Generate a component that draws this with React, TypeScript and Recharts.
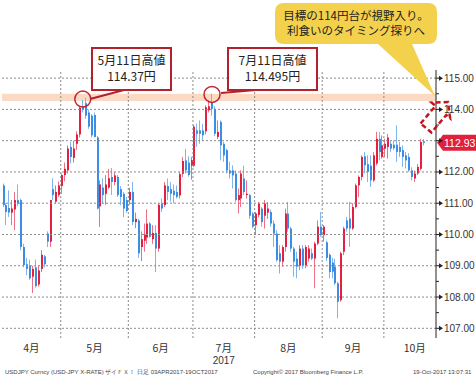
import React from "react";
import {
  ComposedChart,
  Bar,
  XAxis,
  YAxis,
  ReferenceLine,
  ReferenceArea,
  ReferenceDot,
} from "recharts";

// daily USD/JPY candles: [open, high, low, close]
type OHLC = [number, number, number, number];

const april: OHLC[] = [
  [111.57, 111.63, 110.88, 110.94],
  [110.94, 111.0, 110.3, 110.72],
  [110.85, 111.41, 110.56, 110.7],
  [110.7, 111.1, 110.3, 110.83],
  [110.8, 111.36, 110.14, 111.1],
  [111.1, 111.6, 110.9, 110.99],
  [111.1, 111.15, 109.5, 109.6],
  [109.6, 109.7, 108.95, 109.02],
  [109.05, 109.25, 108.7, 108.9],
  [109.0, 109.2, 108.55, 108.6],
  [108.65, 109.0, 108.13, 108.9],
  [108.95, 109.2, 108.3, 108.35],
  [108.4, 109.0, 108.33, 108.85],
  [108.9, 109.5, 108.8, 109.35],
  [109.3, 109.35, 108.95, 109.05],
  [110.03, 110.1, 109.6, 109.77],
  [109.77, 111.1, 109.6, 111.1],
  [111.45, 111.8, 111.1, 111.26],
  [111.05, 111.57, 111.0, 111.36],
  [111.26, 111.7, 111.2, 111.57],
];

const may: OHLC[] = [
  [111.55, 111.95, 111.3, 111.9],
  [111.9, 112.3, 111.7, 112.1],
  [112.05, 112.85, 111.95, 112.75],
  [112.8, 112.96, 112.27, 112.48],
  [112.45, 113.0, 112.3, 112.75],
  [112.9, 113.3, 112.7, 113.2],
  [113.2, 114.1, 113.1, 114.05],
  [114.1, 114.3, 113.9, 114.0],
  [114.2, 114.37, 113.7, 113.8],
  [113.9, 114.0, 113.38, 113.45],
  [113.8, 113.85, 113.1, 113.17],
  [113.82, 113.9, 113.1, 113.12],
  [113.1, 113.15, 110.8, 110.83],
  [110.9, 111.73, 110.24, 111.6],
  [111.5, 111.79, 110.99, 111.26],
  [111.3, 111.9, 110.95, 111.6],
  [111.5, 112.1, 111.45, 111.8],
  [111.84, 112.13, 111.26, 111.68],
  [111.68, 112.0, 111.57, 111.89],
  [111.84, 111.9, 111.2, 111.26],
  [111.45, 111.55, 110.94, 111.2],
  [111.3, 111.36, 110.55, 110.83],
  [111.1, 111.2, 110.7, 110.75],
];

const june: OHLC[] = [
  [111.1, 111.5, 110.95, 111.36],
  [111.36, 111.68, 110.3, 110.4],
  [110.4, 110.7, 110.2, 110.5],
  [110.45, 110.5, 109.25, 109.4],
  [109.6, 110.1, 109.15, 109.85],
  [109.8, 110.35, 109.45, 110.0],
  [109.9, 110.8, 109.7, 110.35],
  [110.35, 110.4, 109.9, 109.93],
  [109.85, 110.3, 109.7, 110.05],
  [110.05, 110.3, 108.8, 109.55],
  [109.55, 111.0, 109.45, 110.95],
  [110.99, 111.15, 110.72, 110.83],
  [110.94, 111.68, 110.88, 111.57],
  [111.55, 111.79, 111.1, 111.36],
  [111.45, 111.68, 111.05, 111.3],
  [111.4, 111.6, 111.0, 111.26],
  [111.36, 111.57, 111.15, 111.2],
  [111.25, 112.0, 111.15, 111.93],
  [111.94, 112.48, 111.84, 112.35],
  [112.37, 112.74, 111.95, 112.05],
  [112.3, 112.5, 111.85, 111.9],
  [112.2, 112.48, 111.75, 112.38],
];

const july: OHLC[] = [
  [112.2, 113.5, 112.15, 113.45],
  [113.33, 113.54, 112.8, 113.22],
  [113.33, 113.65, 112.9, 113.22],
  [113.33, 113.54, 113.0, 113.17],
  [113.3, 114.13, 113.2, 114.07],
  [113.97, 114.29, 113.9, 114.1],
  [114.23, 114.495, 113.8, 114.02],
  [114.02, 114.1, 113.15, 113.22],
  [113.12, 113.65, 113.05, 113.28],
  [113.6, 113.65, 112.37, 112.85],
  [112.9, 112.96, 112.32, 112.53],
  [112.7, 112.74, 111.95, 112.05],
  [112.05, 112.32, 111.79, 111.95],
  [112.05, 112.21, 111.47, 111.89],
  [111.95, 112.05, 111.04, 111.1],
  [111.1, 111.47, 110.67, 111.26],
  [111.15, 112.05, 110.88, 111.95],
  [111.79, 112.2, 111.26, 111.36],
  [111.26, 111.73, 111.15, 111.3],
  [111.26, 111.3, 110.5, 110.6],
  [110.67, 110.72, 110.2, 110.25],
];

const august: OHLC[] = [
  [110.3, 110.72, 109.98, 110.67],
  [110.62, 111.04, 110.55, 110.99],
  [110.83, 110.88, 110.25, 110.4],
  [110.6, 111.1, 110.19, 110.99],
  [110.7, 111.04, 110.5, 110.83],
  [110.72, 110.8, 110.25, 110.35],
  [110.35, 110.45, 109.6, 110.03],
  [110.03, 110.14, 109.13, 109.18],
  [109.4, 109.66, 108.75, 109.13],
  [109.13, 109.66, 108.97, 109.6],
  [109.6, 110.83, 109.45, 110.67],
  [110.67, 111.04, 110.09, 110.19],
  [110.19, 110.25, 109.45, 109.55],
  [109.55, 109.6, 108.65, 109.13],
  [109.23, 109.45, 108.6, 108.97],
  [109.0, 109.66, 108.86, 109.55],
  [109.55, 109.66, 108.9, 109.02],
  [109.02, 109.66, 108.92, 109.6],
  [109.23, 109.66, 109.13, 109.55],
  [109.4, 109.55, 109.18, 109.23],
  [109.23, 109.77, 108.28, 109.71],
  [109.71, 110.45, 109.66, 110.25],
  [110.25, 110.72, 109.93, 109.98],
];

const september: OHLC[] = [
  [109.98, 110.3, 109.77, 110.25],
  [109.75, 109.8, 109.15, 109.25],
  [109.35, 109.4, 108.6, 108.8],
  [109.1, 109.25, 108.6, 108.81],
  [108.97, 109.23, 108.38, 108.44],
  [108.44, 108.49, 107.32, 107.85],
  [107.9, 109.45, 107.85, 109.4],
  [109.45, 110.25, 109.34, 110.19],
  [110.45, 110.56, 110.09, 110.19],
  [110.51, 111.04, 109.6, 110.19],
  [110.19, 111.0, 110.14, 110.88],
  [110.88, 111.63, 110.83, 111.57],
  [111.57, 111.89, 111.2, 111.84],
  [111.84, 112.53, 111.73, 112.48],
  [112.5, 112.64, 111.95, 112.21],
  [112.25, 112.53, 111.68, 112.0],
  [112.2, 112.53, 111.52, 111.73],
  [111.73, 112.64, 111.68, 112.53],
  [112.27, 113.28, 112.21, 113.06],
  [113.06, 113.28, 112.37, 112.64],
  [112.48, 113.17, 112.43, 112.85],
];

const october: OHLC[] = [
  [112.74, 113.06, 112.48, 112.9],
  [112.8, 113.22, 112.43, 113.1],
  [112.9, 112.98, 112.64, 112.75],
  [112.87, 113.01, 112.7, 112.76],
  [112.87, 113.49, 112.32, 112.64],
  [112.8, 112.96, 112.48, 112.64],
  [112.7, 112.85, 112.16, 112.48],
  [112.53, 112.64, 112.11, 112.37],
  [112.48, 112.6, 112.0, 112.05],
  [112.05, 112.15, 111.73, 111.84],
  [111.79, 112.05, 111.68, 111.95],
  [111.95, 112.25, 111.9, 112.16],
  [112.1, 113.06, 112.05, 112.96],
  [112.98, 113.05, 112.85, 112.93],
];

const monthCandles = [april, may, june, july, august, september, october];
const monthLabels = ["4月", "5月", "6月", "7月", "8月", "9月", "10月"];
// label positions on the session index axis
const monthLabelAt = [9.5, 31, 53.5, 75, 97, 119, 140];
const yearLabel = { month: "7月", text: "2017" };

const Y_MIN = 106.69;
const Y_MAX = 115.26;
const yTicks = [107, 107.5, 108, 108.5, 109, 109.5, 110, 110.5, 111, 111.5, 112, 112.5, 113, 113.5, 114, 114.5, 115];
const lastPrice = 112.93;
const highBand = [114.27, 114.5];
// May 11 / Jul 11 highs (session index, price)
const highMarks = [
  { i: 27, p: 114.33 },
  { i: 71, p: 114.48 },
];

const UP = "#e41f3f";
const DOWN = "#3a8ee6";
const UP_WICK = "#ee7088";
const DOWN_WICK = "#80b6ee";
const CJK = "'Noto Sans CJK JP', sans-serif";
const NUM = "'Liberation Sans', Arial, sans-serif";

const MARGIN = { top: 70, right: 0, bottom: 41, left: 2 };
const CHART_H = 379;
const PLOT_W = 434;
const RIGHT_GAP = 11; // empty space after the last session
const LABEL_Y = CHART_H - MARGIN.bottom + 14; // month label baseline

const rows: { i: number; o: number; h: number; l: number; c: number }[] = [];
const monthBounds: number[] = [];
monthCandles.forEach((list, m) => {
  list.forEach(([o, h, l, c]) => rows.push({ i: rows.length, o, h, l, c }));
  if (m < monthCandles.length - 1) monthBounds.push(rows.length - 0.5);
});
const xEnd = -0.5 + (rows.length * PLOT_W) / (PLOT_W - RIGHT_GAP);

const Candle = (props: any) => {
  const { x, y, width, height, payload } = props;
  if (!payload) return null;
  const { o, h, l, c } = payload;
  const top = Math.min(y, y + height);
  const span = Math.abs(height);
  const range = h - l || 1;
  const toY = (v: number) => top + ((h - v) / range) * span;
  const cx = Math.round(x + width / 2);
  const up = c >= o;
  const bTop = toY(Math.max(o, c));
  const bBot = toY(Math.min(o, c));
  return (
    <g>
      <line x1={cx - 0.5} x2={cx - 0.5} y1={top} y2={top + span} stroke={up ? UP_WICK : DOWN_WICK} />
      <rect x={cx - 1} y={bTop} width={2} height={Math.max(1, bBot - bTop)} fill={up ? UP : DOWN} />
    </g>
  );
};

const PriceTick = ({ x, y, payload }: any) => {
  const v = payload.value as number;
  const major = Number.isInteger(v);
  // the last-price tag hides the label it sits on
  const covered = Math.abs(v - lastPrice) < 0.3;
  return (
    <g>
      <line x1={x} x2={x + (major ? 4 : 3)} y1={y} y2={y} stroke="#222" />
      {major && <polygon points={`${x + 3},${y - 2.5} ${x + 7},${y} ${x + 3},${y + 2.5}`} fill="#222" />}
      {major && !covered && (
        <text x={x + 8} y={y + 3.5} fontSize={10} fontFamily={NUM} fill="#333">
          {v.toFixed(2)}
        </text>
      )}
    </g>
  );
};

// x from the session scale, y fixed below the plot
const MonthLabel = (label: string) => (p: any) => {
  const { cx } = p;
  return (
    <g>
      <text x={cx} y={LABEL_Y} textAnchor="middle" fontSize={10.5} fontFamily={CJK} fill="#333">
        {label}
      </text>
      {label === yearLabel.month && (
        <text x={cx} y={LABEL_Y + 12} textAnchor="middle" fontSize={10} fontFamily={NUM} fill="#333">
          {yearLabel.text}
        </text>
      )}
    </g>
  );
};

const PriceTag = (p: any) => {
  const x = Math.max(p.x1, p.x2);
  const y = p.y1;
  return (
    <g>
      <polygon
        points={`${x + 1},${y} ${x + 7},${y - 8} ${x + 40},${y - 8} ${x + 40},${y + 8} ${x + 7},${y + 8}`}
        fill="#e0203c"
      />
      <text x={x + 8} y={y + 4} fontSize={10.5} fontFamily={NUM} fill="#fff">
        {lastPrice.toFixed(2)}
      </text>
    </g>
  );
};

const Callouts = () => (
  <svg width={476} height={379} style={{ position: "absolute", left: 0, top: 0, pointerEvents: "none" }}>
    <path
      d="M284,3 H428 Q437,3 437,12 V35 Q437,44 428,44 H412 L435,96 L378,44 H284 Q275,44 275,35 V12 Q275,3 284,3 Z"
      fill="#f3d14c"
    />
    <text x={356} y={20} textAnchor="middle" fontSize={11.5} fontFamily={CJK} fill="#222">
      目標の114円台が視野入り。
    </text>
    <text x={356} y={35} textAnchor="middle" fontSize={11.5} fontFamily={CJK} fill="#222">
      利食いのタイミング探りへ
    </text>

    <line x1={90} y1={99} x2={124} y2={90} stroke="#b3222c" strokeWidth={2} />
    <rect x={92} y={48} width={79} height={42} fill="#fff" stroke="#b3222c" strokeWidth={2} />
    <text x={131.5} y={65} textAnchor="middle" fontSize={12} fontFamily={CJK} fill="#222">
      5月11日高値
    </text>
    <text x={131.5} y={81} textAnchor="middle" fontSize={12} fontFamily={CJK} fill="#222">
      114.37円
    </text>

    <line x1={221} y1={93} x2={256} y2={90} stroke="#b3222c" strokeWidth={2} />
    <rect x={228} y={48} width={89} height={42} fill="#fff" stroke="#b3222c" strokeWidth={2} />
    <text x={272.5} y={65} textAnchor="middle" fontSize={12} fontFamily={CJK} fill="#222">
      7月11日高値
    </text>
    <text x={272.5} y={81} textAnchor="middle" fontSize={12} fontFamily={CJK} fill="#222">
      114.495円
    </text>

    <polygon
      points="420.6,123.5 435.5,105.9 431.7,102.6 448,102 450.1,118.2 446.3,115 431.4,132.5"
      fill="none"
      stroke="#c4161c"
      strokeWidth={2.5}
      strokeDasharray="5 3"
    />

    <text x={5} y={374} fontSize={6} fontFamily={NUM} fill="#444">
      USDJPY Curncy (USD-JPY X-RATE) ザイＦＸ！
    </text>
    <text x={137} y={374} fontSize={6} fontFamily={NUM} fill="#444">
      日足 03APR2017-19OCT2017
    </text>
    <text x={253} y={374} fontSize={6} fontFamily={NUM} fill="#444">
      Copyright© 2017 Bloomberg Finance L.P.
    </text>
    <text x={413} y={374} fontSize={6} fontFamily={NUM} fill="#444">
      19-Oct-2017 13:07:31
    </text>
  </svg>
);

export default function App() {
  return (
    <div style={{ position: "absolute", left: 0, top: 0, width: 476, height: CHART_H, background: "#fff" }}>
      <ComposedChart width={476} height={CHART_H} data={rows} margin={MARGIN} barCategoryGap={0}>
        <XAxis
          dataKey="i"
          type="category"
          orientation="top"
          hide
          height={0}
          padding={{ left: 0, right: RIGHT_GAP }}
        />
        <XAxis
          xAxisId="num"
          dataKey="i"
          type="number"
          domain={[-0.5, xEnd]}
          hide
          height={0}
          allowDataOverflow
        />
        <YAxis
          orientation="right"
          type="number"
          domain={[Y_MIN, Y_MAX]}
          ticks={yTicks}
          interval={0}
          allowDataOverflow
          width={40}
          axisLine={{ stroke: "#222" }}
          tickLine={false}
          tickSize={0}
          tickMargin={0}
          tick={<PriceTick />}
        />
        <ReferenceArea
          xAxisId="num"
          y1={highBand[0]}
          y2={highBand[1]}
          fill="#fbd9c3"
          fillOpacity={1}
          stroke="none"
        />
        {yTicks
          .filter((t) => Number.isInteger(t))
          .map((t) => (
            <ReferenceLine key={t} xAxisId="num" y={t} stroke="#8a8a8a" strokeDasharray="2 2" />
          ))}
        {monthBounds.map((b) => (
          <ReferenceLine key={b} xAxisId="num" x={b} stroke="#8a8a8a" strokeDasharray="2 2" />
        ))}
        {monthLabelAt.map((at, k) => (
          <ReferenceDot
            key={`m${k}`}
            xAxisId="num"
            x={at}
            y={Y_MIN}
            ifOverflow="visible"
            shape={MonthLabel(monthLabels[k])}
          />
        ))}
        <Bar dataKey={(d: any) => [d.l, d.h]} shape={<Candle />} isAnimationActive={false} />
        {highMarks.map((m) => (
          <ReferenceDot
            key={m.i}
            x={m.i}
            y={m.p}
            r={8}
            fill="none"
            fillOpacity={0}
            stroke="#c0262d"
            strokeWidth={1.5}
          />
        ))}
        <ReferenceLine xAxisId="num" y={lastPrice} stroke="none" shape={<PriceTag />} />
      </ComposedChart>
      <Callouts />
    </div>
  );
}
